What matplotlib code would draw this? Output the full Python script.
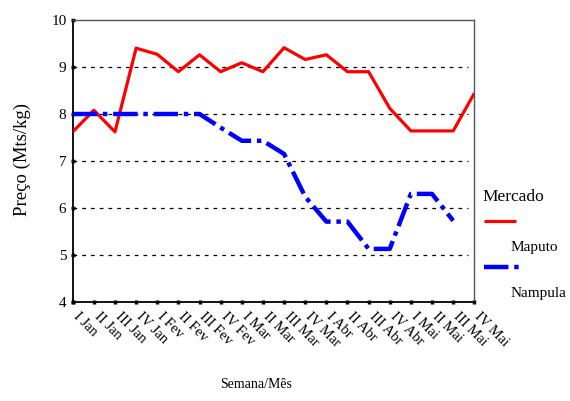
#!/usr/bin/env python3
# -*- coding: utf-8 -*-
from matplotlib import rcParams, pyplot as plt
from matplotlib.lines import Line2D
import matplotlib.transforms as mtransforms

rcParams["font.family"] = ["Liberation Serif", "DejaVu Serif"]

WEEKS = ["I Jan", "II Jan", "III Jan", "IV Jan",
         "I Fev", "II Fev", "III Fev", "IV Fev",
         "I Mar", "II Mar", "III Mar", "IV Mar",
         "I Abr", "II Abr", "III Abr", "IV Abr",
         "I Mai", "II Mai", "III Mai", "IV Mai"]
MAPUTO = [7.62, 8.08, 7.62, 9.40, 9.27, 8.90, 9.26, 8.90, 9.09, 8.90,
          9.41, 9.16, 9.26, 8.90, 8.90, 8.12, 7.64, 7.64, 7.64, 8.44]
NAMPULA = [8.0, 8.0, 8.0, 8.0, 8.0, 8.0, 8.0, 7.71, 7.43, 7.43,
           7.15, 6.24, 5.71, 5.71, 5.13, 5.13, 6.30, 6.30, 5.73]
Y_TICKS = [4, 5, 6, 7, 8, 9, 10]

RED_STYLE = dict(color="#ff0000", lw=2.3, ls="-", solid_capstyle="butt")
BLUE_STYLE = dict(color="#0000ff", lw=3.2, ls=(0, (5.5, 1.3, 1.0, 1.3)),
                  dash_capstyle="butt")


def plot():
    fig = plt.figure(figsize=(5.70, 4.01), dpi=100)
    ax = fig.add_axes([72.7 / 570, 1 - 302 / 401, (474.3 - 72.7) / 570, (302 - 20) / 401])

    x = list(range(len(WEEKS)))
    ax.plot(x, MAPUTO, **RED_STYLE, zorder=3)
    ax.plot(x[:len(NAMPULA)], NAMPULA, **BLUE_STYLE, zorder=3)

    ax.set_xlim(0, len(WEEKS) - 1)
    ax.set_ylim(4, 10)
    ax.set_yticks(Y_TICKS)
    ax.set_yticklabels([str(v) for v in Y_TICKS], fontsize=11)
    ax.set_xticks(x)
    ax.set_xticklabels(WEEKS, rotation=-45, ha="left", va="top",
                       rotation_mode="anchor", fontsize=10.5)
    ax.tick_params(axis="both", direction="inout", length=3, width=2.5, color="black")
    ax.tick_params(axis="x", pad=4)
    ax.tick_params(axis="y", pad=3)
    # push the slanted labels a little to the right of their ticks
    offset = mtransforms.ScaledTranslation(7 / 100, 0, fig.dpi_scale_trans)
    for lbl in ax.get_xticklabels():
        lbl.set_transform(lbl.get_transform() + offset)

    for v in Y_TICKS[1:-1]:
        ax.axhline(v, xmin=0, xmax=0.985, color="black", lw=0.9,
                   ls=(0, (3, 4)), zorder=1)

    ax.spines["left"].set_linewidth(1.3)
    ax.spines["bottom"].set_linewidth(1.3)
    ax.spines["top"].set_color("#555555")
    ax.spines["right"].set_color("#555555")
    ax.spines["top"].set_linewidth(1.0)
    ax.spines["right"].set_linewidth(1.0)

    fig.text(22 / 570, 1 - 160 / 401, "Preço (Mts/kg)", rotation=90,
             ha="center", va="center", fontsize=13.5)
    fig.text(256 / 570, 1 - 385 / 401, "Semana/Mês", ha="center", va="center",
             fontsize=10)

    # legend drawn by hand, handle above label
    fig.text(482 / 570, 1 - 197 / 401, "Mercado", ha="left", va="center", fontsize=12.5)
    fig.add_artist(Line2D([484 / 570, 516 / 570], [1 - 221 / 401, 1 - 221 / 401],
                          transform=fig.transFigure, **RED_STYLE))
    fig.text(511 / 570, 1 - 247 / 401, "Maputo", ha="left", va="center", fontsize=11)
    fig.add_artist(Line2D([484 / 570, 524 / 570], [1 - 267 / 401, 1 - 267 / 401],
                          transform=fig.transFigure, **BLUE_STYLE))
    fig.text(511 / 570, 1 - 293 / 401, "Nampula", ha="left", va="center", fontsize=11)

    fig.savefig("out.png", dpi=100)


if __name__ == '__main__':
    plot()
